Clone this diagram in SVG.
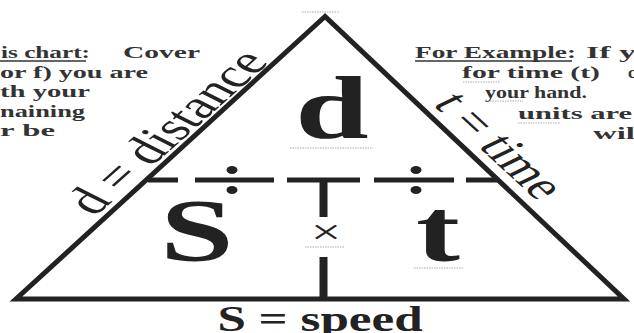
<svg xmlns="http://www.w3.org/2000/svg" width="634" height="333" viewBox="0 0 634 333">
<style>
.ink{stroke:#222;fill:none}
.big{font-family:"Liberation Serif","Times New Roman",serif;font-weight:bold;fill:#222}
.para{font-family:"Liberation Serif","Times New Roman",serif;font-weight:bold;font-size:17px;fill:#333}
.side{font-family:"Liberation Serif","Times New Roman",serif;fill:#222}
.sq{stroke:#aaa;stroke-width:1.2;stroke-dasharray:1.5 1;fill:none}
.ul{stroke:#333;stroke-width:1.3;fill:none}
.dot{fill:#222}
</style>
<rect width="634" height="333" fill="#fff"/>
<g id="connectors">
  <polygon points="325,16.5 16,299 624,299" class="ink" stroke-width="5" stroke-linejoin="miter"/>
  <path d="M148 180H178M195 180H274M287 180H360M374 180H454M466 180H497" class="ink" stroke-width="5"/>
  <path d="M323.5 180V217M323.5 257V299" class="ink" stroke-width="8"/>
</g>
<g id="divide-left">
  <ellipse cx="232" cy="170" rx="5.5" ry="4" class="dot"/>
  <ellipse cx="232" cy="190" rx="5.5" ry="4" class="dot"/>
</g>
<g id="divide-right">
  <ellipse cx="416" cy="170" rx="5.5" ry="4" class="dot"/>
  <ellipse cx="416" cy="190" rx="5.5" ry="4" class="dot"/>
</g>
<g id="node-d">
  <text class="big" font-size="88" text-anchor="middle" transform="translate(332,138) scale(1.5,1)">d</text>
</g>
<g id="node-s">
  <text class="big" font-size="88" text-anchor="middle" transform="translate(197,260) scale(1.5,1)">S</text>
</g>
<g id="node-t">
  <text class="big" font-size="88" text-anchor="middle" transform="translate(438,260) scale(1.5,1)">t</text>
</g>
<g id="node-times">
  <text class="side" font-size="36" text-anchor="middle" transform="translate(326,244) scale(1.5,1)">×</text>
</g>
<g id="label-speed">
  <text class="big" font-size="36" text-anchor="middle" transform="translate(320,331) scale(1.42,1)">S = speed</text>
</g>
<g id="label-distance">
  <text class="side" font-size="40" text-anchor="middle" transform="translate(182.5,139.6) scale(1.5,1) rotate(-53)">d = distance</text>
</g>
<g id="label-time">
  <text class="side" font-size="38.5" text-anchor="middle" transform="translate(484.8,152.9) scale(1.5,1) rotate(54)">t = time</text>
</g>
<g id="note-left">
  <text class="para" x="1" y="58" textLength="89" lengthAdjust="spacingAndGlyphs">is chart:</text>
  <line x1="0" y1="61" x2="86" y2="61" class="ul"/>
  <text class="para" x="123" y="58" textLength="77" lengthAdjust="spacingAndGlyphs">Cover</text>
  <text class="para" x="0" y="77.5" textLength="148" lengthAdjust="spacingAndGlyphs">or f) you are</text>
  <text class="para" x="0" y="97" textLength="90" lengthAdjust="spacingAndGlyphs">th your</text>
  <text class="para" x="0" y="116.5" textLength="85" lengthAdjust="spacingAndGlyphs">naining</text>
  <text class="para" x="0" y="136" textLength="55" lengthAdjust="spacingAndGlyphs">r be</text>
</g>
<g id="note-right">
  <text class="para" x="415" y="58" textLength="161" lengthAdjust="spacingAndGlyphs">For Example:</text>
  <line x1="415" y1="61" x2="572" y2="61" class="ul"/>
  <text class="para" x="586" y="58" textLength="50" lengthAdjust="spacingAndGlyphs">If y</text>
  <text class="para" x="462" y="78" textLength="138" lengthAdjust="spacingAndGlyphs">for time (t)</text>
  <text class="para" x="628" y="78">c</text>
  <text class="para" x="485" y="98" textLength="102" lengthAdjust="spacingAndGlyphs">your hand.</text>
  <text class="para" x="518" y="119" textLength="114" lengthAdjust="spacingAndGlyphs">units are</text>
  <text class="para" x="593" y="139" textLength="42" lengthAdjust="spacingAndGlyphs">wil</text>
</g>
<g id="marks">
  <path d="M302 12H340M290 148H373M305 247H345M414 268H464M463 82H500M485 101H523M518 123H560" class="sq"/>
</g>
</svg>
